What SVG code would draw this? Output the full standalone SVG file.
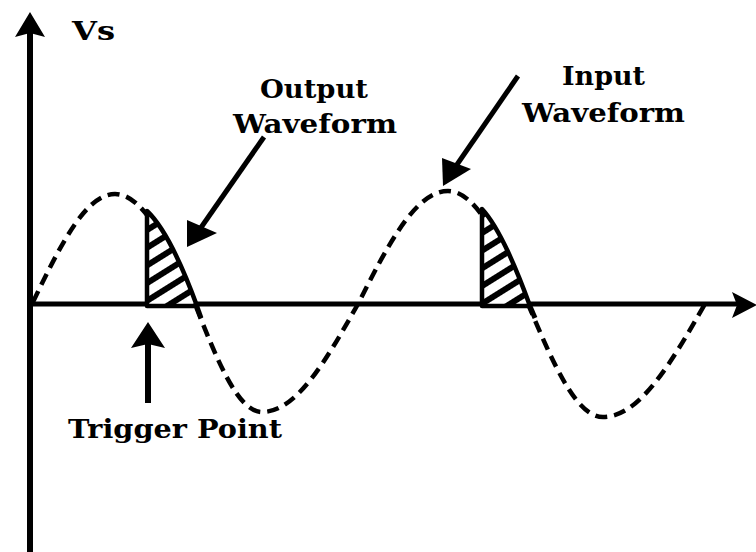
<svg xmlns="http://www.w3.org/2000/svg" width="756" height="552" viewBox="0 0 756 552">
  <style>
    .lbl { font-family: "DejaVu Serif", "Liberation Serif", serif; font-weight: bold; font-size: 26px; fill: #000; }
    .axis { stroke: #000; stroke-width: 5; fill: none; }
    .wave { stroke: #000; stroke-width: 4.5; fill: none; stroke-dasharray: 12 7; }
    .shade { fill: url(#hatch); stroke: #000; stroke-width: 4.5; stroke-linejoin: round; }
    .arrowline { stroke: #000; stroke-width: 5; fill: none; }
    .head { fill: #000; }
  </style>
  <defs>
    <pattern id="hatch" width="15" height="15" patternUnits="userSpaceOnUse" patternTransform="rotate(-32)">
      <rect width="15" height="15" fill="#fff"/>
      <rect width="15" height="6" fill="#000"/>
    </pattern>
  </defs>
  <rect width="756" height="552" fill="#fff"/>

  <g id="axes">
    <line class="axis" x1="30" y1="30" x2="30" y2="552" style="stroke-width:6"/>
    <polygon class="head" points="30,12 45,37 30,33 15,37"/>
    <line class="axis" x1="30" y1="304" x2="740" y2="304"/>
    <polygon class="head" points="757,305 732,292 737,305 732,318"/>
  </g>

  <g id="input-waveform">
    <path class="wave" d="M33,302 C59.7,246.7 85.3,194 115,194 C144,194 168.9,247.7 195,304 C216.8,359.3 237.7,412 262,412 C296.8,412 326.7,359.3 358,304 C387.3,246.1 415.4,191 448,191 C477,191 501.9,246.1 528,304 C552.5,361.9 575.9,417 603,417 C639.9,417 671.7,361.9 705,304"/>
  </g>

  <g id="output-waveform">
    <path class="shade" d="M147,211 C165,228 182,265 197,306 L147,306 Z"/>
    <line class="axis" x1="196" y1="304" x2="201" y2="318"/>
    <path class="shade" d="M482,209 C497,225 514,262 530,306 L482,306 Z"/>
    <line class="axis" x1="529" y1="304" x2="535" y2="318"/>
  </g>

  <g id="connectors">
    <line class="arrowline" x1="264" y1="137" x2="200" y2="229"/>
    <polygon class="head" points="187,247 187,220 217,233"/>
    <line class="arrowline" x1="518" y1="76" x2="456" y2="166"/>
    <polygon class="head" points="443,186 442,158 471,169"/>
    <line class="arrowline" x1="148" y1="344" x2="148" y2="403" style="stroke-width:6"/>
    <polygon class="head" points="148,322 165,348 148,344 131,348"/>
  </g>

  <g id="label-vs">
    <text class="lbl" x="72" y="40" textLength="43" lengthAdjust="spacingAndGlyphs">Vs</text>
  </g>
  <g id="label-output">
    <text class="lbl" x="260" y="98" textLength="108" lengthAdjust="spacingAndGlyphs">Output</text>
    <text class="lbl" x="233" y="133" textLength="164" lengthAdjust="spacingAndGlyphs">Waveform</text>
  </g>
  <g id="label-input">
    <text class="lbl" x="562" y="85" textLength="83" lengthAdjust="spacingAndGlyphs">Input</text>
    <text class="lbl" x="522" y="122" textLength="163" lengthAdjust="spacingAndGlyphs">Waveform</text>
  </g>
  <g id="label-trigger">
    <text class="lbl" x="68" y="438" textLength="214" lengthAdjust="spacingAndGlyphs">Trigger Point</text>
  </g>
</svg>
